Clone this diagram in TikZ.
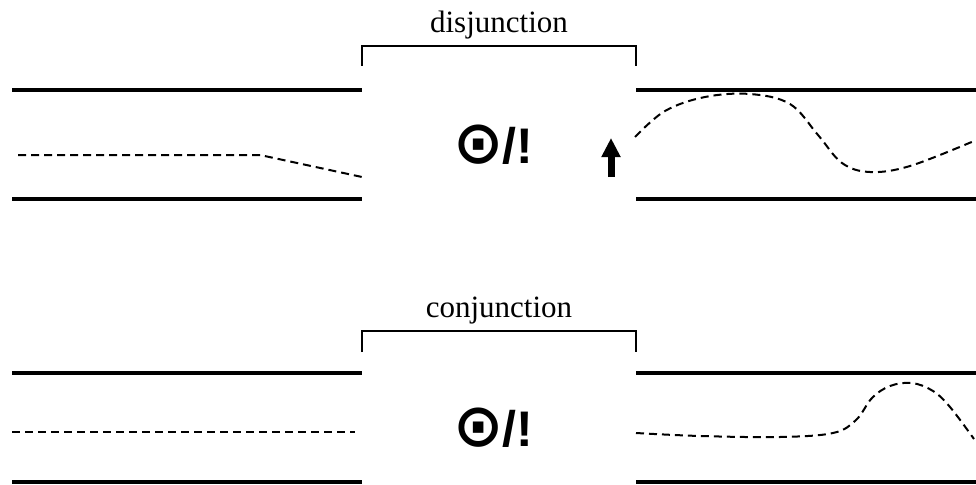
\documentclass[tikz,border=0pt]{standalone}
\usepackage{fontspec}
\setmainfont{Liberation Serif}
\newfontfamily\symfont{DejaVu Sans}
\newfontfamily\bangfont{Liberation Sans}
\usetikzlibrary{arrows.meta}
\newcommand{\odotbang}{{\symfont\bfseries\fontsize{60}{60}\selectfont ⊙}\kern-1pt{\bangfont\bfseries\fontsize{50}{50}\selectfont /!}}
\begin{document}
\begin{tikzpicture}[x=1pt,y=-1pt,
  wall/.style={line width=4pt},
  brack/.style={line width=1.3pt},
  path dash/.style={line width=2pt, dash pattern=on 8pt off 5pt},
  label text/.style={font=\fontsize{31}{36}\selectfont, inner sep=0pt, anchor=base},
  sym/.style={inner sep=0pt, anchor=base}
]
\useasboundingbox (0,0) rectangle (976,484);
% ---------- top panel: disjunction ----------
\draw[wall] (12,90) -- (362,90);
\draw[wall] (12,199) -- (362,199);
\draw[wall] (636,90) -- (976,90);
\draw[wall] (636,199) -- (976,199);
\draw[brack] (362,66) -- (362,46) -- (636,46) -- (636,66);
\node[label text] (dis) at (499,33) {disjunction};
\node[sym] (sym1) at (493,163) {\odotbang};
\draw[line width=7pt, -{Triangle[width=18pt,length=19pt]}] (611,177) -- (611,138);
\draw[path dash] (18,155) -- (260,155) -- (362,177);
\draw[path dash] plot[smooth, tension=0.6] coordinates
  {(635,137) (665,111) (705,97) (750,94) (790,104) (818,135) (842,163) (870,172) (910,166) (974,141)};
% ---------- bottom panel: conjunction ----------
\draw[wall] (12,373) -- (362,373);
\draw[wall] (12,482) -- (362,482);
\draw[wall] (636,373) -- (976,373);
\draw[wall] (636,482) -- (976,482);
\draw[brack] (362,352) -- (362,331) -- (636,331) -- (636,352);
\node[label text] (con) at (499,317) {conjunction};
\node[sym] (sym2) at (493,446) {\odotbang};
\draw[path dash] (12,432) -- (355,432);
\draw[path dash] plot[smooth, tension=0.6] coordinates
  {(636,433) (700,436) (780,437) (833,433) (856,420) (872,398) (890,386) (912,383) (933,391) (950,407) (974,439)};
\end{tikzpicture}
\end{document}
